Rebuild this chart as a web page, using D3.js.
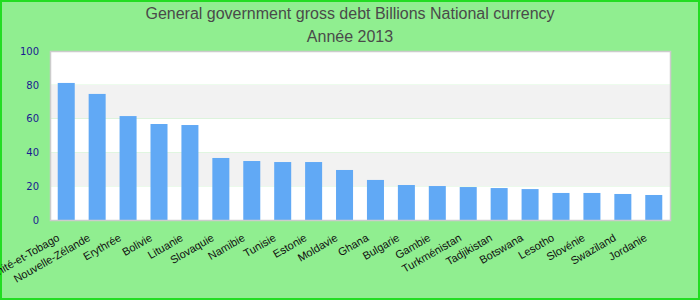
<!DOCTYPE html>
<html>
<head>
<meta charset="utf-8">
<script src="https://cdn.jsdelivr.net/npm/d3@7"></script>
<style>
 body { margin: 0; padding: 0; background: #fff; }
 svg { display: block; }
</style>
</head>
<body>
<div id="chart"></div>
<script>
// data
var countries = ["Trinité-et-Tobago", "Nouvelle-Zélande", "Erythrée", "Bolivie", "Lituanie",
  "Slovaquie", "Namibie", "Tunisie", "Estonie", "Moldavie", "Ghana", "Bulgarie", "Gambie",
  "Turkménistan", "Tadjikistan", "Botswana", "Lesotho", "Slovénie", "Swaziland", "Jordanie"];
var debt = [81.1, 74.6, 61.5, 56.8, 56.2, 36.7, 34.9, 34.3, 34.3, 29.6, 23.7, 20.7, 20.1,
  19.5, 18.9, 18.3, 16.0, 16.0, 15.4, 14.8];
var yTicks = [0, 20, 40, 60, 80, 100];
var titleLines = ["General government gross debt Billions National currency", "Année 2013"];

var width = 700, height = 300;
var margin = { top: 51, right: 30, bottom: 80, left: 50 };

var svg = d3.select("#chart")
    .append("svg")
    .attr("width", width)
    .attr("height", height);

// background + green frame
svg.append("rect")
    .attr("x", 1).attr("y", 1)
    .attr("width", width - 2).attr("height", height - 2)
    .attr("fill", "#90ee90")
    .attr("stroke", "#22dd22")
    .attr("stroke-width", 2);

var x = d3.scaleBand()
    .domain(countries)
    .range([margin.left, width - margin.right])
    .paddingInner(0.45)
    .paddingOuter(0.25);

var y = d3.scaleLinear()
    .domain([0, 100])
    .range([height - margin.bottom, margin.top]);

// alternating horizontal bands
var bands = yTicks.slice(0, -1).map(function(v, i) { return { lo: v, hi: yTicks[i + 1], i: i }; });
svg.append("g")
    .selectAll("rect")
    .data(bands)
    .enter()
    .append("rect")
    .attr("x", margin.left)
    .attr("width", width - margin.right - margin.left)
    .attr("y", function(d) { return y(d.hi); })
    .attr("height", function(d) { return y(d.lo) - y(d.hi); })
    .attr("fill", function(d) { return d.i % 2 ? "#f2f2f2" : "#ffffff"; });

// bars
svg.append("g")
    .selectAll("rect")
    .data(debt)
    .enter()
    .append("rect")
    .attr("x", function(d, i) { return x(countries[i]); })
    .attr("width", x.bandwidth())
    .attr("y", function(d) { return y(d); })
    .attr("height", function(d) { return y(0) - y(d); })
    .attr("fill", "#61a9f5");

// plot frame
svg.append("rect")
    .attr("x", margin.left + 0.5)
    .attr("y", margin.top + 0.5)
    .attr("width", width - margin.right - margin.left)
    .attr("height", y(0) - margin.top)
    .attr("fill", "none")
    .attr("stroke", "#cccccc")
    .attr("stroke-width", 1.5);

// y axis labels
var yAxis = d3.axisLeft(y).tickValues(yTicks).tickSize(0).tickPadding(11);
var gy = svg.append("g")
    .attr("transform", "translate(" + margin.left + ",0)")
    .call(yAxis);
gy.select(".domain").remove();
gy.selectAll("text")
    .attr("fill", "#1a1a90")
    .style("font-family", "'DejaVu Sans', sans-serif")
    .style("font-size", "10px");

// x axis labels, rotated
var xAxis = d3.axisBottom(x).tickSize(0).tickPadding(0);
var gx = svg.append("g")
    .attr("transform", "translate(0," + y(0) + ")")
    .call(xAxis);
gx.select(".domain").remove();
gx.selectAll("text")
    .attr("y", 0)
    .attr("dy", 0)
    .attr("text-anchor", "end")
    .attr("transform", "translate(-6,20) rotate(-30)")
    .attr("fill", "#111")
    .style("font-family", "'Liberation Sans', Arial, sans-serif")
    .style("font-size", "11px");

// title
svg.selectAll(".title")
    .data(titleLines)
    .enter()
    .append("text")
    .attr("class", "title")
    .attr("x", width / 2)
    .attr("y", function(d, i) { return 19 + i * 23; })
    .attr("text-anchor", "middle")
    .attr("fill", "#4a4a4a")
    .style("font-family", "'Liberation Sans', Arial, sans-serif")
    .style("font-size", "16px")
    .text(function(d) { return d; });
</script>
</body>
</html>
